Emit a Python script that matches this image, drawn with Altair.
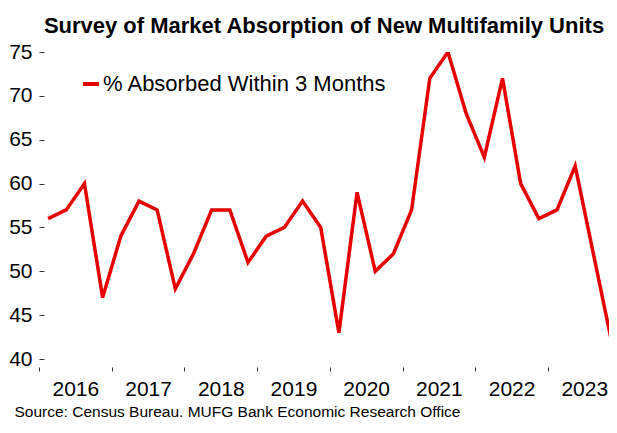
import altair as alt
import pandas as pd

title_text = "Survey of Market Absorption of New Multifamily Units"
source_text = "Source: Census Bureau. MUFG Bank Economic Research Office"
series_name = "% Absorbed Within 3 Months"

years = [2016, 2017, 2018, 2019, 2020, 2021, 2022, 2023]
quarters = [1, 2, 3, 4]
values = [56, 57, 60, 47,
          54, 58, 57, 48,
          52, 57, 57, 51,
          54, 55, 58, 55,
          43, 59, 50, 52,
          57, 72, 75, 68,
          63, 72, 60, 56,
          57, 62, 52, 42]
y_ticks = [40, 45, 50, 55, 60, 65, 70, 75]

rows = []
i = 0
for y in years:
    for q in quarters:
        rows.append({"t": y + (q - 0.5) / 4, "v": values[i], "series": series_name})
        i += 1
df = pd.DataFrame(rows)

FONT = "Liberation Sans"
PLOT_W = 570
X_END = 2023.84
PX_PER_YEAR = PLOT_W / (X_END - 2016)

chart = alt.Chart(df).mark_line(color="#e60000", strokeWidth=3.5, clip=True).encode(
    x=alt.X("t:Q",
            scale=alt.Scale(domain=[2016, X_END], nice=False, zero=False),
            axis=alt.Axis(values=years, format="d", labelOffset=PX_PER_YEAR / 2, tickSize=4, offset=8,
                          domain=False, grid=False, labelFont=FONT, labelFontSize=21,
                          labelColor="black", labelPadding=7, tickColor="#333",
                          labelOverlap=False, labelFlush=False, labelBound=False,
                          title=source_text, titleAnchor="start", titleX=-25, titleY=49,
                          titleFont=FONT, titleFontSize=15.5, titleFontWeight="normal",
                          titleColor="black", titleBaseline="alphabetic", titleAlign="left")),
    y=alt.Y("v:Q",
            scale=alt.Scale(domain=[40, 75], nice=False, zero=False),
            axis=alt.Axis(values=y_ticks, offset=-5, tickSize=5, domain=False, grid=False,
                          labelPadding=7, labelFont=FONT, labelFontSize=21, labelColor="black",
                          tickColor="#333", title=None)),
    color=alt.Color("series:N", scale=alt.Scale(range=["#e60000"]),
                    legend=alt.Legend(title=None, orient="none", legendX=41, legendY=21,
                                      symbolType="stroke", symbolSize=256, symbolStrokeWidth=4,
                                      labelFont=FONT, labelFontSize=22, labelColor="black",
                                      labelOffset=1, padding=0, labelLimit=400)),
).properties(
    width=PLOT_W, height=307,
    title=alt.Title(title_text, font=FONT, fontSize=22, fontWeight="bold", color="black",
                    anchor="middle", offset=10, dy=24, baseline="alphabetic"),
    padding={"left": 31, "top": 44, "right": 0, "bottom": 59},
    autosize=alt.AutoSizeParams(type="none"),
).configure_view(stroke=None)

chart.save("out.html", embed_options={"renderer": "svg", "actions": False})
